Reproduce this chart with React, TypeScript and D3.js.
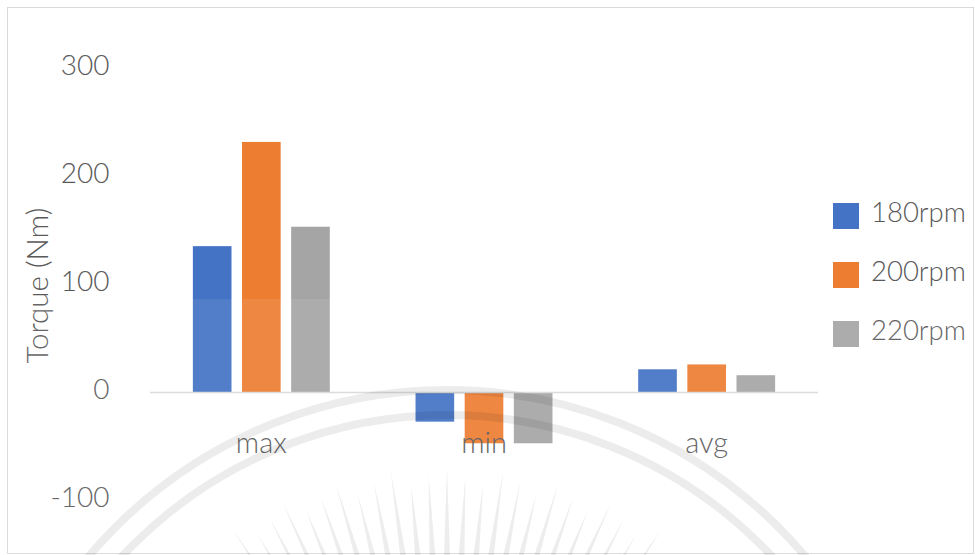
import React from "react";
import * as d3 from "d3";

const categories = ["max", "min", "avg"];
const series = ["180rpm", "200rpm", "220rpm"];
const values180 = [135.5, -27, 21.5];
const values200 = [232, -47, 26];
const values220 = [153.5, -47, 16];
const yTicks = [300, 200, 100, 0, -100];
const colors = ["#4472C4", "#ED7D31", "#A5A5A5"];

const W = 975;
const H = 555;
const FONT = "Lato, 'Open Sans', sans-serif";
const TEXT = "#595959";

export default function App() {
  const seriesValues = [values180, values200, values220];
  const y = d3.scaleLinear().domain([-100, 300]).range([500.5, 68.5]);
  const x0 = d3.scaleBand<string>().domain(categories).range([150, 818]).padding(0);
  const groupW = x0.bandwidth() * 0.615;
  const x1 = d3
    .scaleBand<string>()
    .domain(series)
    .range([-groupW / 2, groupW / 2])
    .paddingInner(0.214)
    .paddingOuter(0);

  const cx = 447;
  const cy = 859;
  const rayAngles = d3.range(-33, 33.1, 2.75);

  return (
    <svg
      width={W}
      height={H}
      style={{ position: "absolute", left: 0, top: 0, background: "#fff" }}
    >
      <rect x={7.5} y={7.5} width={966} height={546} fill="#fff" stroke="#d9d9d9" strokeWidth={1} />

      {/* y tick labels */}
      {yTicks.map((t) => (
        <text
          key={t}
          x={109.5}
          y={y(t) + 6.5}
          textAnchor="end"
          fontFamily={FONT}
          fontSize={28}
          fill={TEXT}
          fontWeight={300}
        >
          {t}
        </text>
      ))}

      {/* axis title */}
      <text
        transform={`translate(48,285.5) rotate(-90)`}
        textAnchor="middle"
        fontFamily={FONT}
        fontSize={29.5}
        fill={TEXT}
        fontWeight={300}
      >
        Torque (Nm)
      </text>

      {/* bars */}
      {categories.map((c, ci) => (
        <g key={c} transform={`translate(${x0(c)! + x0.bandwidth() / 2},0)`}>
          {series.map((s, si) => {
            const v = seriesValues[si][ci];
            const y0 = y(0);
            const yv = y(v);
            return (
              <rect
                key={s}
                x={x1(s)!}
                width={x1.bandwidth()}
                y={Math.min(y0, yv)}
                height={Math.abs(yv - y0)}
                fill={colors[si]}
              />
            );
          })}
        </g>
      ))}

      {/* zero line */}
      <line x1={150} x2={818} y1={y(0)} y2={y(0)} stroke="#d9d9d9" strokeWidth={1.5} />

      {/* category labels */}
      {categories.map((c) => (
        <text
          key={c}
          x={x0(c)! + x0.bandwidth() / 2}
          y={y(0) + 60}
          textAnchor="middle"
          fontFamily={FONT}
          fontSize={29}
          fill={TEXT}
          fontWeight={300}
        >
          {c}
        </text>
      ))}

      {/* legend */}
      {series.map((s, i) => (
        <g key={s} transform={`translate(833,${203 + i * 59})`}>
          <rect width={26} height={26} fill={colors[i]} />
          <text
            x={38}
            y={19}
            fontFamily={FONT}
            fontSize={27.5}
            fill={TEXT}
            fontWeight={300}
          >
            {s}
          </text>
        </g>
      ))}

      {/* watermark */}
      <rect x={0} y={299} width={W} height={H - 299} fill="#fff" opacity={0.08} />
      <g fill="none" stroke="#000" strokeOpacity={0.075}>
        <circle cx={cx} cy={cy} r={469} strokeWidth={8} />
        <circle cx={cx} cy={cy} r={444} strokeWidth={8} />
      </g>
      <g fill="#000" fillOpacity={0.07}>
        {rayAngles.map((a) => {
          const r = (a * Math.PI) / 180;
          const k = Math.abs(Math.round(a / 2.75)) % 3;
          const r1 = 392 - k * 8;
          const r0 = 290;
          const w = 3.4;
          const tip = [cx + r1 * Math.sin(r), cy - r1 * Math.cos(r)];
          const bx = cx + r0 * Math.sin(r);
          const by = cy - r0 * Math.cos(r);
          const nx = Math.cos(r) * w;
          const ny = Math.sin(r) * w;
          const d = `M${tip[0]},${tip[1]} L${bx + nx},${by + ny} L${bx - nx},${by - ny} Z`;
          return <path key={a} d={d} />;
        })}
      </g>
    </svg>
  );
}
